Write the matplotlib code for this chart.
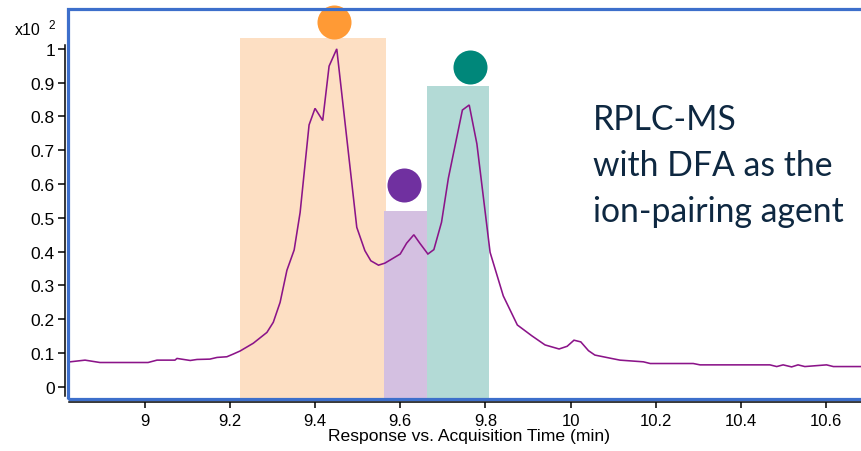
import matplotlib
matplotlib.use("Agg")
import matplotlib.pyplot as plt
from matplotlib.patches import Rectangle

# Extracted ion chromatogram (time in min, response in units of 10^2)
time_min = [8.825, 8.860, 8.895, 9.008, 9.029, 9.071, 9.076, 9.107, 9.123, 9.153,
            9.170, 9.193, 9.208, 9.224, 9.255, 9.287, 9.302, 9.318, 9.334, 9.351,
            9.365, 9.386, 9.400, 9.418, 9.433, 9.451, 9.498, 9.517, 9.531, 9.549,
            9.564, 9.600, 9.615, 9.632, 9.646, 9.665, 9.679, 9.697, 9.713, 9.746,
            9.762, 9.780, 9.811, 9.842, 9.875, 9.909, 9.940, 9.973, 9.992, 10.008,
            10.024, 10.042, 10.057, 10.096, 10.116, 10.171, 10.187, 10.288, 10.304, 10.468,
            10.484, 10.499, 10.519, 10.534, 10.550, 10.601, 10.617, 10.700]
response = [0.074, 0.079, 0.072, 0.072, 0.079, 0.079, 0.084, 0.078, 0.081, 0.082,
            0.087, 0.089, 0.097, 0.106, 0.129, 0.161, 0.191, 0.250, 0.345, 0.405,
            0.516, 0.775, 0.824, 0.788, 0.949, 1.000, 0.472, 0.403, 0.373, 0.360,
            0.366, 0.393, 0.425, 0.450, 0.425, 0.393, 0.406, 0.487, 0.617, 0.819,
            0.834, 0.719, 0.398, 0.269, 0.183, 0.151, 0.124, 0.112, 0.120, 0.138,
            0.133, 0.107, 0.094, 0.084, 0.079, 0.074, 0.069, 0.069, 0.065, 0.065,
            0.060, 0.065, 0.059, 0.065, 0.060, 0.065, 0.060, 0.060]

# Shaded peak windows: start, end, height
band_start = [9.223, 9.561, 9.662]
band_end = [9.566, 9.664, 9.808]
band_height = [1.033, 0.520, 0.890]
band_colors = ["#FDDFC3", "#D4C0E1", "#B3DAD6"]

# Peak markers
marker_x = [9.444, 9.610, 9.763]
marker_y = [1.081, 0.597, 0.946]
marker_colors = ["#FF9A35", "#7030A0", "#00877A"]

y_ticks = [0, 0.1, 0.2, 0.3, 0.4, 0.5, 0.6, 0.7, 0.8, 0.9, 1.0]
y_tick_labels = ["0", "0.1", "0.2", "0.3", "0.4", "0.5", "0.6", "0.7", "0.8", "0.9", "1"]
x_ticks = [9.0, 9.2, 9.4, 9.6, 9.8, 10.0, 10.2, 10.4, 10.6]
x_tick_labels = ["9", "9.2", "9.4", "9.6", "9.8", "10", "10.2", "10.4", "10.6"]

W, H = 861, 452
fig = plt.figure(figsize=(W / 100, H / 100), dpi=100)
plt.rcParams["font.family"] = ["Liberation Sans", "DejaVu Sans"]

ax_left, ax_right, ax_top, ax_bottom = 68, 870, 10, 400
ax = fig.add_axes([ax_left / W, 1 - ax_bottom / H,
                   (ax_right - ax_left) / W, (ax_bottom - ax_top) / H])
xmin, xmax = 8.820, 10.703
ymin, ymax = -0.036, 1.118
ax.set_xlim(xmin, xmax)
ax.set_ylim(ymin, ymax)

for s, e, h, c in zip(band_start, band_end, band_height, band_colors):
    ax.add_patch(Rectangle((s, ymin), e - s, h - ymin, facecolor=c,
                           edgecolor="none", zorder=1))

ax.plot(time_min, response, color="#8B1489", lw=1.15, zorder=3,
        solid_joinstyle="miter")

for mx, my, mc in zip(marker_x, marker_y, marker_colors):
    ax.plot([mx], [my], "o", ms=24.5, color=mc, mec="none", zorder=4,
            clip_on=False)

# Blue plot frame
ax.add_patch(Rectangle((0, 0), 1, 1, transform=ax.transAxes, fill=False,
                       edgecolor="#3D6FCB", lw=2.3, clip_on=False, zorder=6))

# Black axis lines set slightly outside the frame
for side in ("top", "right"):
    ax.spines[side].set_visible(False)
for side in ("left", "bottom"):
    ax.spines[side].set_position(("outward", 2.4))
    ax.spines[side].set_color("black")
    ax.spines[side].set_linewidth(1.1)
ax.spines["left"].set_bounds(-0.028, 1.01)
ax.spines["bottom"].set_bounds(8.823, xmax)

ax.set_yticks(y_ticks)
ax.set_yticklabels(y_tick_labels, fontsize=12.5)
ax.set_xticks(x_ticks)
ax.set_xticklabels(x_tick_labels, fontsize=12)
ax.tick_params(axis="y", length=5, width=1.1, pad=2, colors="black")
ax.tick_params(axis="x", length=4, width=1.1, pad=4, colors="black")
ax.set_xlabel("Response vs. Acquisition Time (min)", fontsize=12.6, labelpad=0)

fig.text(15 / W, 1 - 35 / H, "x10", fontsize=11.5, ha="left", va="baseline")
fig.text(48 / W, 1 - 29 / H, "2", fontsize=8.5, ha="left", va="baseline")

text_kw = dict(fontsize=24.3, color="#0E2841", family=["Lato", "DejaVu Sans"],
               ha="left", va="baseline")
fig.text(593 / W, 1 - 130 / H, "RPLC-MS", **text_kw)
fig.text(593 / W, 1 - 176 / H, "with DFA as the", **text_kw)
fig.text(593 / W, 1 - 222 / H, "ion-pairing agent", **text_kw)

fig.savefig("out.png", dpi=100)
